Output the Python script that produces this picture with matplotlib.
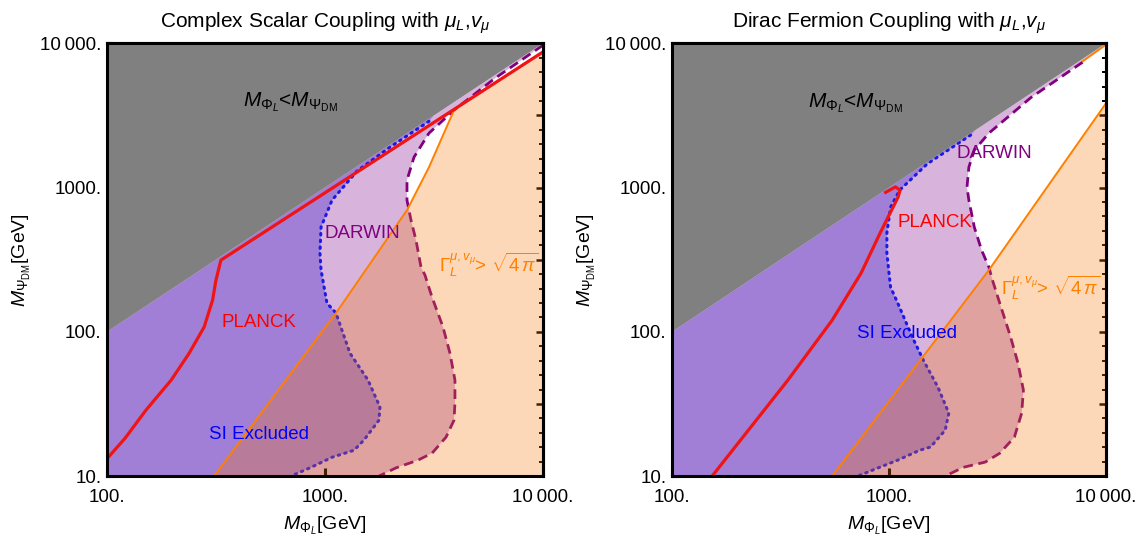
import numpy as np
import matplotlib
matplotlib.use('Agg')
import matplotlib.pyplot as plt
from matplotlib.ticker import FixedLocator, NullFormatter, NullLocator

plt.rcParams['font.family'] = ['Liberation Sans', 'DejaVu Sans']
plt.rcParams['mathtext.fontset'] = 'custom'
plt.rcParams['mathtext.rm'] = 'Liberation Sans'
plt.rcParams['mathtext.it'] = 'Liberation Sans:italic'
plt.rcParams['mathtext.bf'] = 'Liberation Sans:bold'

# ---- left panel: complex scalar ----
red_x_L = [100, 121, 151, 197, 238, 279, 305, 316, 333, 10000]
red_y_L = [13.2, 18.3, 28.7, 46.3, 71, 108, 166, 228, 314, 8715]

blue_x_L = [2999, 2000, 1402, 1077, 959, 948, 959, 1021, 1123, 1302, 1575,
            1787, 1768, 1510, 1359, 1077, 863, 698]
blue_y_L = [2880, 1920, 1300, 818, 532, 351, 268, 158, 135, 71, 46.3,
            30.1, 24.4, 17.8, 15.1, 13.5, 11.5, 10]

dash_x_L = [10000, 6000, 3906, 2999, 2560, 2377, 2377, 2480, 2614, 2756, 2875,
            3096, 3477, 3743, 3945, 3945, 3906, 3589, 3096, 2671, 2117, 1769]
dash_y_L = [9700, 5700, 3437, 2383, 1625, 1125, 818, 594, 432, 281, 247,
            174, 108, 71, 46.3, 32, 24.4, 18.6, 14.4, 12.9, 11.4, 10]

orange_x_L = [310, 1123, 1510, 2377, 2999, 3906]
orange_y_L = [10, 135, 258, 697, 1384, 3437]

# ---- right panel: Dirac fermion ----
red_x_R = [153, 342, 546, 743, 909, 1011, 1100, 1124, 1070, 950]
red_y_R = [10, 46.3, 120, 255, 483, 665, 858, 959, 1010, 915]

blue_x_R = [2377, 1500, 1119, 1016, 977, 977, 996, 1016, 1097, 1280, 1438,
            1679, 1885, 1814, 1553, 1384, 1097, 904, 718]
blue_y_R = [2310, 1460, 959, 731, 483, 351, 268, 204, 158, 91.9, 63.7,
            41.4, 27.3, 20.8, 15.9, 15.1, 12.9, 11.5, 10]

dash_x_R = [7800, 4500, 2884, 2470, 2332, 2286, 2332, 2470, 2669, 2884, 2996,
            3236, 3632, 3926, 4160, 4083, 3779, 3236, 2773, 2198, 1814]
dash_y_R = [7400, 4200, 2383, 1816, 1384, 1006, 818, 532, 368, 281, 228,
            158, 91.9, 60.7, 39.4, 27.3, 18.6, 14.4, 12.5, 11.5, 10]

orange_x_R = [547, 2884, 10000]
orange_y_R = [10, 268, 3846]
orange_edge_x_R = [7800, 10000]
orange_edge_y_R = [7500, 9800]

titles = [r'Complex Scalar Coupling with $\mu_L$,$v_\mu$',
          r'Dirac Fermion Coupling with $\mu_L$,$v_\mu$']

xticks = [100, 1000, 10000]
xticklabels = ['100.', '1000.', '10\u2009000.']
yticks = [10, 100, 1000, 10000]
yticklabels = ['10.', '100.', '1000.', '10\u2009000.']

C_GRAY = '#808080'
C_SI = '#a27fd6'
C_DARWIN = '#d8b4dc'
C_ORANGE_FILL = '#f87400'
C_ORANGE = '#ff8000'
C_RED = '#f01414'
C_BLUE = '#1a1ae6'
C_PURPLE = '#800080'


def draw_panel(ax, red, blue, dash, orange, orange_top, title, labels, extra=None):
    red_x, red_y = red
    blue_x, blue_y = blue
    dash_x, dash_y = dash
    org_x, org_y = orange

    # light purple: everything left of the DARWIN curve
    px = [100, 100, 10000] + list(dash_x)
    py = [10, 100, 10000] + list(dash_y)
    ax.fill(px, py, color=C_DARWIN, lw=0, zorder=1)

    # SI excluded
    px = [100, 100, blue_x[0] * 1.05] + list(blue_x)
    py = [10, 100, blue_x[0] * 1.05] + list(blue_y)
    ax.fill(px, py, color=C_SI, lw=0, zorder=2)

    ax.plot(blue_x, blue_y, color=C_BLUE, lw=2.2, ls=(0, (0.5, 1.7)),
            dash_capstyle='round', zorder=3)
    ax.plot(dash_x, dash_y, color=C_PURPLE, lw=2.0, ls=(0, (3.5, 2.0)), zorder=3)

    # perturbativity bound
    px = list(org_x) + [10000, 10000]
    py = list(org_y) + [orange_top, 10]
    ax.fill(px, py, color=C_ORANGE_FILL, alpha=0.28, lw=0, zorder=4)
    ax.plot(org_x, org_y, color=C_ORANGE, lw=1.4, zorder=5)
    if extra is not None:
        ax.plot(extra[0], extra[1], color=C_ORANGE, lw=1.4, zorder=5)

    ax.plot(red_x, red_y, color=C_RED, lw=2.3, zorder=6,
            solid_capstyle='butt', solid_joinstyle='round')

    # M_Phi < M_Psi
    ax.fill([100, 10000, 100], [100, 10000, 10000], color=C_GRAY, lw=0, zorder=7)

    ax.set_xscale('log')
    ax.set_yscale('log')
    ax.set_xlim(100, 10000)
    ax.set_ylim(10, 10000)
    ax.set_xticks(xticks, labels=xticklabels)
    ax.set_yticks(yticks, labels=yticklabels)
    ax.xaxis.set_minor_locator(NullLocator())
    ax.yaxis.set_minor_locator(NullLocator())
    ax.tick_params(direction='in', length=6, width=2.2, labelsize=13.5)
    ax.tick_params(axis='x', pad=9)
    ax.tick_params(axis='y', pad=4)
    for s in ax.spines.values():
        s.set_linewidth(2.2)
        s.set_zorder(10)

    sx = ax.secondary_xaxis('top')
    sx.xaxis.set_major_locator(FixedLocator(10 ** np.arange(2, 4.01, 0.5)))
    sx.xaxis.set_minor_locator(FixedLocator(10 ** np.arange(2, 4.001, 0.1)))
    sx.xaxis.set_major_formatter(NullFormatter())
    sx.xaxis.set_minor_formatter(NullFormatter())
    sx.tick_params(which='major', direction='in', length=5, width=1.8)
    sx.tick_params(which='minor', direction='in', length=3, width=1.4)
    sy = ax.secondary_yaxis('right')
    sy.yaxis.set_major_locator(FixedLocator(10 ** np.arange(1, 4.01, 0.5)))
    sy.yaxis.set_minor_locator(FixedLocator(10 ** np.arange(1, 4.001, 0.1)))
    sy.yaxis.set_major_formatter(NullFormatter())
    sy.yaxis.set_minor_formatter(NullFormatter())
    sy.tick_params(which='major', direction='in', length=5, width=1.8)
    sy.tick_params(which='minor', direction='in', length=3, width=1.4)
    for s in list(sx.spines.values()) + list(sy.spines.values()):
        s.set_linewidth(2.2)

    ax.set_title(title, fontsize=15, pad=11)
    ax.set_xlabel(r'$M_{\Phi_L}$[GeV]', fontsize=14, labelpad=7)
    ax.set_ylabel(r'$M_{\Psi_{\rm DM}}$[GeV]', fontsize=14, labelpad=5)

    for (fx, fy, s, c, fs) in labels:
        ax.text(fx, fy, s, transform=ax.transAxes, ha='center', va='center',
                fontsize=fs, color=c, zorder=11)


fig = plt.figure(figsize=(11.41, 5.41), dpi=100)
axL = fig.add_axes([0.0938, 0.120, 0.3821, 0.800])
axR = fig.add_axes([0.5890, 0.120, 0.3804, 0.800])

gray_lab = r'$M_{\Phi_L}$<$M_{\Psi_{\rm DM}}$'
gam_lab = r'$\Gamma_L^{\mu,v_\mu}$> $\sqrt{4\,\pi}$'

draw_panel(axL, (red_x_L, red_y_L), (blue_x_L, blue_y_L), (dash_x_L, dash_y_L),
           (orange_x_L, orange_y_L), red_y_L[-1], titles[0],
           [(0.420, 0.864, gray_lab, 'black', 15),
            (0.585, 0.561, 'DARWIN', C_PURPLE, 13.5),
            (0.874, 0.487, gam_lab, C_ORANGE, 13.5),
            (0.349, 0.356, 'PLANCK', 'red', 13.5),
            (0.349, 0.095, 'SI Excluded', 'blue', 13.5)])

draw_panel(axR, (red_x_R, red_y_R), (blue_x_R, blue_y_R), (dash_x_R, dash_y_R),
           (orange_x_R, orange_y_R), orange_y_R[-1], titles[1],
           [(0.422, 0.861, gray_lab, 'black', 15),
            (0.742, 0.746, 'DARWIN', C_PURPLE, 13.5),
            (0.606, 0.587, 'PLANCK', 'red', 13.5),
            (0.541, 0.330, 'SI Excluded', 'blue', 13.5),
            (0.871, 0.434, gam_lab, C_ORANGE, 13.5)],
           extra=(orange_edge_x_R, orange_edge_y_R))

fig.savefig('out.png', dpi=100)
